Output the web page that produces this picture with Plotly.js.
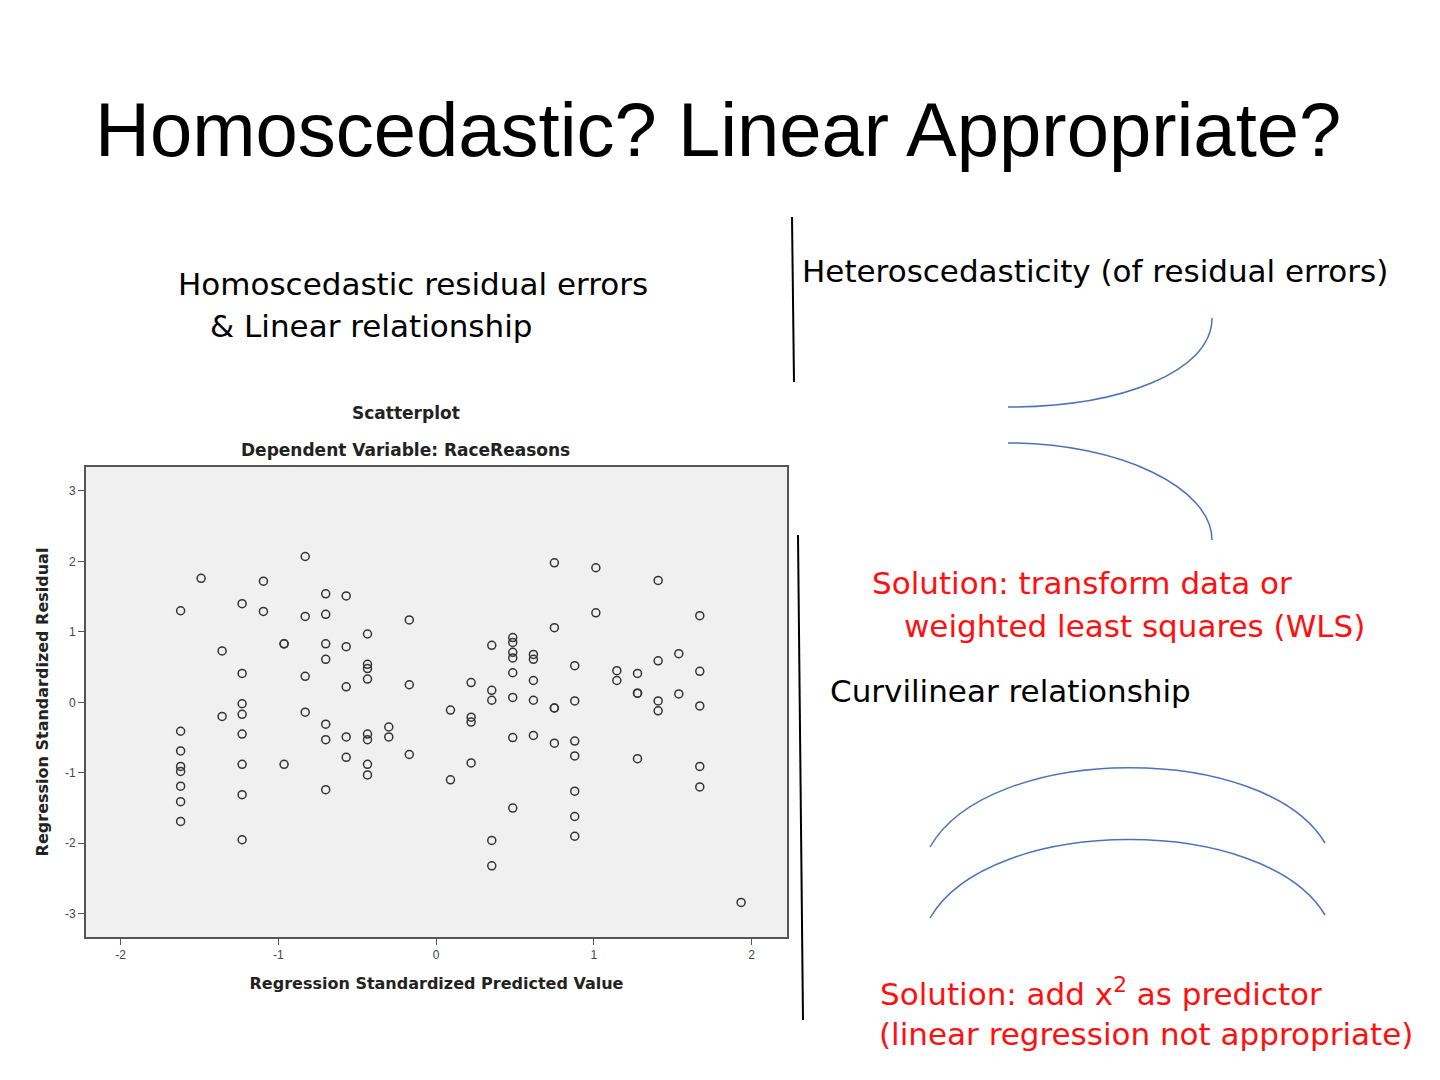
<!DOCTYPE html>
<html>
<head>
<meta charset="utf-8">
<script src="https://cdn.plot.ly/plotly-3.0.1.min.js"></script>
<style>html,body{margin:0;padding:0;background:#fff;}#chart{width:1440px;height:1080px;}</style>
</head>
<body>
<div id="chart"></div>
<script>
// Regression Standardized Predicted Value (x) and Regression Standardized Residual (y)
const predicted = [
  -1.62,-1.62,-1.62,-1.62,-1.62,-1.62,-1.62,-1.62,
  -1.49,
  -1.357,-1.357,
  -1.23,-1.23,-1.23,-1.23,-1.23,-1.23,-1.23,-1.23,
  -1.095,-1.095,
  -0.964,-0.964,-0.964,
  -0.83,-0.83,-0.83,-0.83,
  -0.70,-0.70,-0.70,-0.70,-0.70,-0.70,-0.70,
  -0.57,-0.57,-0.57,-0.57,-0.57,
  -0.435,-0.435,-0.435,-0.435,-0.435,-0.435,-0.435,-0.435,
  -0.30,-0.30,
  -0.17,-0.17,-0.17,
  0.091,0.091,
  0.222,0.222,0.222,0.222,
  0.353,0.353,0.353,0.353,0.353,
  0.486,0.486,0.486,0.486,0.486,0.486,0.486,0.486,
  0.617,0.617,0.617,0.617,0.617,
  0.75,0.75,0.75,0.75,0.75,
  0.879,0.879,0.879,0.879,0.879,0.879,0.879,
  1.013,1.013,
  1.146,1.146,
  1.277,1.277,1.277,1.277,
  1.408,1.408,1.408,1.408,
  1.539,1.539,
  1.672,1.672,1.672,1.672,1.672,
  1.934
];
const residual = [
  1.30,-0.41,-0.69,-0.91,-0.98,-1.19,-1.41,-1.69,
  1.76,
  0.73,-0.20,
  1.40,0.41,-0.02,-0.17,-0.45,-0.88,-1.31,-1.95,
  1.72,1.29,
  0.83,0.83,-0.88,
  2.07,1.22,0.37,-0.14,
  1.54,1.25,0.83,0.61,-0.31,-0.53,-1.24,
  1.51,0.79,0.22,-0.49,-0.78,
  0.97,0.54,0.48,0.33,-0.45,-0.53,-0.88,-1.03,
  -0.35,-0.49,
  1.17,0.25,-0.74,
  -0.11,-1.10,
  0.28,-0.21,-0.28,-0.86,
  0.81,0.17,0.03,-1.96,-2.32,
  0.92,0.85,0.71,0.63,0.42,0.07,-0.50,-1.50,
  0.68,0.61,0.31,0.03,-0.47,
  1.98,1.06,-0.08,-0.08,-0.58,
  0.52,0.02,-0.55,-0.76,-1.26,-1.62,-1.90,
  1.91,1.27,
  0.45,0.31,
  0.41,0.13,0.13,-0.80,
  1.73,0.59,0.02,-0.12,
  0.69,0.12,
  1.23,0.44,-0.05,-0.91,-1.20,
  -2.84
];
const xTicks = [-2,-1,0,1,2];
const yTicks = [-3,-2,-1,0,1,2,3];

const slideTitle = "Homoscedastic? Linear Appropriate?";
const chartTitle = "Scatterplot";
const chartSubtitle = "Dependent Variable: RaceReasons";
const xTitle = "Regression Standardized Predicted Value";
const yTitle = "Regression Standardized Residual";

const W = 1440, H = 1080;
const px = v => v / W;
const py = v => 1 - v / H;
const TITLE_FONT = "Liberation Sans, Arial, sans-serif";
const BODY_FONT = "DejaVu Sans, Verdana, sans-serif";
const SPSS_FONT = "DejaVu Sans, Arial, sans-serif";
const TICK_FONT = "Liberation Sans, Arial, sans-serif";
const BLUE = "#4a74b8";
const RED = "#ff1010";

function pathFrom(pts) {
  const f = p => px(p[0]).toFixed(5) + "," + py(p[1]).toFixed(5);
  return "M" + f(pts[0]) + " C" + f(pts[1]) + " " + f(pts[2]) + " " + f(pts[3]);
}

const trace = {
  x: predicted, y: residual, type: "scatter", mode: "markers",
  marker: {symbol: "circle-open", size: 8, color: "#333333", line: {width: 1.5, color: "#333333"}},
  hoverinfo: "x+y", showlegend: false
};

const plotL = 86, plotR = 787, plotT = 467, plotB = 937;

const textAnn = (text, x, y, size, color, anchor, family) => ({
  text, x: px(x), y: py(y), xref: "paper", yref: "paper",
  xanchor: anchor || "left", yanchor: "middle", showarrow: false,
  font: {family: family || BODY_FONT, size, color: color || "#000"}
});

const layout = {
  width: W, height: H,
  paper_bgcolor: "#ffffff", plot_bgcolor: "#f0f0f0",
  margin: {l: 0, r: 0, t: 0, b: 0},
  showlegend: false,
  xaxis: {
    domain: [px(plotL), px(plotR)], range: [-2.22, 2.225],
    tickvals: xTicks, ticktext: xTicks.map(String),
    ticks: "outside", ticklen: 6, tickwidth: 1, tickcolor: "#555",
    showgrid: false, zeroline: false, showline: true, linecolor: "#555", linewidth: 2, mirror: true,
    tickfont: {family: TICK_FONT, size: 12, color: "#444"},
    title: {text: "<b>" + xTitle + "</b>", font: {family: SPSS_FONT, size: 16, color: "#222"}, standoff: 16}
  },
  yaxis: {
    domain: [py(plotB), py(plotT)], range: [-3.33, 3.34],
    tickvals: yTicks, ticktext: yTicks.map(String),
    ticks: "outside", ticklen: 6, tickwidth: 1, tickcolor: "#555",
    showgrid: false, zeroline: false, showline: true, linecolor: "#555", linewidth: 2, mirror: true,
    tickfont: {family: TICK_FONT, size: 12, color: "#444"},
    title: {text: "<b>" + yTitle + "</b>", font: {family: SPSS_FONT, size: 16, color: "#222"}, standoff: 12}
  },
  annotations: [
    textAnn(slideTitle, 718, 130, 76, "#000", "center", TITLE_FONT),
    textAnn("Homoscedastic residual errors", 176, 284, 31),
    textAnn("& Linear relationship", 208, 326, 31),
    textAnn("Heteroscedasticity (of residual errors)", 800, 271, 31),
    textAnn("Solution: transform data or", 870, 583, 31, RED),
    textAnn("weighted least squares (WLS)", 902, 626, 31, RED),
    textAnn("Curvilinear relationship", 828, 691, 31),
    textAnn("Solution: add x<sup>2</sup> as predictor", 878, 992, 31, RED),
    textAnn("(linear regression not appropriate)", 877, 1034, 31, RED),
    {text: "<b>" + chartTitle + "</b>", x: px(406), y: py(413), xref: "paper", yref: "paper",
     xanchor: "center", yanchor: "middle", showarrow: false, font: {family: SPSS_FONT, size: 17, color: "#222"}},
    {text: "<b>" + chartSubtitle + "</b>", x: px(405), y: py(450), xref: "paper", yref: "paper",
     xanchor: "center", yanchor: "middle", showarrow: false, font: {family: SPSS_FONT, size: 17, color: "#222"}}
  ],
  shapes: [
    {type: "line", xref: "paper", yref: "paper", x0: px(792), y0: py(217), x1: px(794), y1: py(382), line: {color: "#000", width: 2}},
    {type: "line", xref: "paper", yref: "paper", x0: px(798), y0: py(535), x1: px(803), y1: py(1020), line: {color: "#000", width: 2}},
    {type: "path", xref: "paper", yref: "paper", path: pathFrom([[1008,407],[1120,407],[1212,372],[1212,318]]), line: {color: BLUE, width: 1.5}},
    {type: "path", xref: "paper", yref: "paper", path: pathFrom([[1008,443],[1120,443],[1212,488],[1212,540]]), line: {color: BLUE, width: 1.5}},
    {type: "path", xref: "paper", yref: "paper", path: pathFrom([[930,847],[990,742],[1265,742],[1325,843]]), line: {color: BLUE, width: 1.5}},
    {type: "path", xref: "paper", yref: "paper", path: pathFrom([[930,918],[990,814],[1265,814],[1325,915]]), line: {color: BLUE, width: 1.5}}
  ]
};

Plotly.newPlot("chart", [trace], layout, {displayModeBar: false, staticPlot: true});
</script>
</body>
</html>
